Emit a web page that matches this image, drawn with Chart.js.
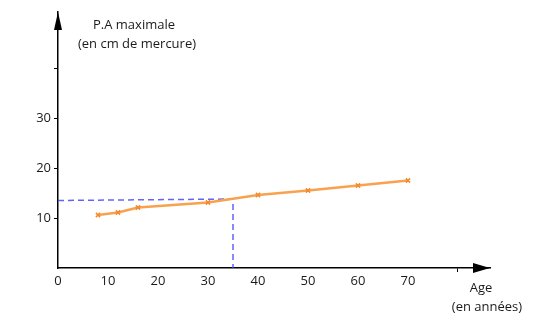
<!DOCTYPE html>
<html>
<head>
<meta charset="utf-8">
<script src="https://cdn.jsdelivr.net/npm/chart.js@4"></script>
<style>
    body { margin: 0; background: #fff; }
    #wrap { width: 545px; height: 333px; }
</style>
</head>
<body>
<div id="wrap"><canvas id="paChart" width="545" height="333"></canvas></div>
<script>
// Pression artérielle maximale selon l'âge
const ages = [8, 12, 16, 30, 40, 50, 60, 70];
const pressions = [10.6, 11.1, 12.1, 13.1, 14.6, 15.5, 16.5, 17.5];

// lecture graphique (pointillés)
const lectureAge = [0, 35, 35];
const lecturePA = [13.5, 13.8, 0];

const xTicks = [0, 10, 20, 30, 40, 50, 60, 70, 80];
const xLabels = ['0', '10', '20', '30', '40', '50', '60', '70', ''];
const yTicks = [0, 10, 20, 30, 40];
const yLabels = ['', '10', '20', '30', ''];

const xTitle = ['Age', '(en années)'];
const yTitle = ['P.A maximale', '(en cm de mercure)'];

const FONT = '"Open Sans", sans-serif';
const TEXT = '#1a1a1a';

// flèches et titres des axes
const axesPlugin = {
    id: 'axesPlugin',
    afterDraw(chart) {
        const c = chart.ctx;
        const a = chart.chartArea;
        c.save();
        c.fillStyle = '#000';
        // flèche horizontale
        c.beginPath();
        c.moveTo(a.right, a.bottom);
        c.lineTo(a.right - 17, a.bottom - 5);
        c.lineTo(a.right - 17, a.bottom + 5);
        c.closePath();
        c.fill();
        // flèche verticale
        c.beginPath();
        c.moveTo(a.left, a.top);
        c.lineTo(a.left - 4, a.top + 18);
        c.lineTo(a.left + 4, a.top + 18);
        c.closePath();
        c.fill();

        c.fillStyle = TEXT;
        c.font = '13px ' + FONT;
        c.textAlign = 'center';
        c.textBaseline = 'middle';
        c.fillText(yTitle[0], a.left + 76, a.top + 13);
        c.fillText(yTitle[1], a.left + 79, a.top + 32);
        c.fillText(xTitle[0], a.right - 9, a.bottom + 20);
        c.fillText(xTitle[1], a.right - 3, a.bottom + 39);
        c.restore();
    }
};

new Chart(document.getElementById('paChart'), {
    type: 'scatter',
    data: {
        datasets: [{
            label: 'P.A',
            data: ages.map((x, i) => ({ x: x, y: pressions[i] })),
            showLine: true,
            borderColor: '#f9a24e',
            borderWidth: 2.5,
            pointStyle: 'crossRot',
            pointRadius: 3,
            pointBorderWidth: 1.5,
            pointBorderColor: '#f28a2e',
            order: 1
        }, {
            label: 'lecture',
            data: lectureAge.map((x, i) => ({ x: x, y: lecturePA[i] })),
            showLine: true,
            borderColor: 'rgba(70,70,255,0.85)',
            borderWidth: 1.5,
            borderDash: [6, 4],
            pointRadius: 0,
            order: 2
        }]
    },
    options: {
        responsive: false,
        animation: false,
        layout: { padding: { left: 0, top: 12, right: 55, bottom: 0 } },
        plugins: {
            legend: { display: false },
            tooltip: { enabled: false }
        },
        scales: {
            x: {
                type: 'linear',
                min: 0,
                max: 86.4,
                afterFit(scale) { scale.height = 65; },
                afterBuildTicks(scale) { scale.ticks = xTicks.map(v => ({ value: v })); },
                ticks: {
                    color: TEXT,
                    font: { family: FONT, size: 13 },
                    padding: 1,
                    maxRotation: 0,
                    callback: (v) => xLabels[xTicks.indexOf(v)]
                },
                grid: {
                    drawOnChartArea: false,
                    tickLength: 4,
                    color: (ctx) => (ctx.tick && ctx.tick.value === 80) ? '#000' : 'rgba(0,0,0,0)'
                },
                border: { color: '#000', width: 1.5 }
            },
            y: {
                type: 'linear',
                min: 0,
                max: 51.2,
                afterFit(scale) { scale.width = 58; },
                afterBuildTicks(scale) { scale.ticks = yTicks.map(v => ({ value: v })); },
                ticks: {
                    color: TEXT,
                    font: { family: FONT, size: 13 },
                    padding: 3,
                    callback: (v) => yLabels[yTicks.indexOf(v)]
                },
                grid: {
                    drawOnChartArea: false,
                    tickLength: 4,
                    color: (ctx) => (ctx.tick && ctx.tick.value === 0) ? 'rgba(0,0,0,0)' : '#000'
                },
                border: { color: '#000', width: 1.5 }
            }
        }
    },
    plugins: [axesPlugin]
});
</script>
</body>
</html>
